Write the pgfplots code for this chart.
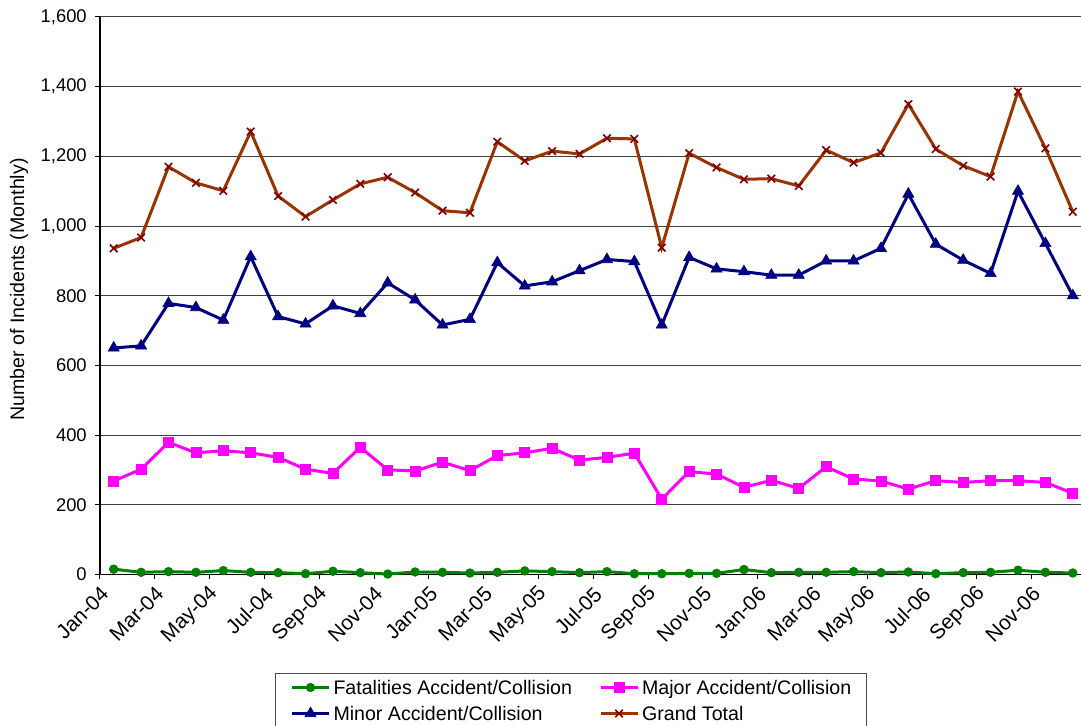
\documentclass[border=0pt]{standalone}
\usepackage{fontspec}
\setmainfont{Liberation Sans}
\usepackage{pgfplots}
\usepackage{pgfplotstable}
\pgfplotsset{compat=1.18}

\definecolor{fatal}{RGB}{0,128,0}
\definecolor{major}{RGB}{255,0,255}
\definecolor{minor}{RGB}{0,0,128}
\definecolor{totline}{RGB}{153,51,0}
\definecolor{totmark}{RGB}{128,0,0}

% month index (0 = Jan-04), fatalities, major, minor, grand total
\pgfplotstableread{
m  fat major minor total
0  15  268  650  936
1  6   302  656  967
2  8   379  778  1170
3  6   349  766  1124
4  11  355  730  1101
5  6   349  912  1271
6  5   336  740  1086
7  2   302  719  1027
8  9   290  771  1075
9  5   365  749  1121
10 1   300  837  1140
11 7   297  788  1096
12 6   322  716  1044
13 4   298  732  1038
14 6   341  895  1242
15 10  349  828  1187
16 8   362  840  1215
17 5   328  872  1207
18 8   336  904  1252
19 2   348  898  1250
20 2   216  716  938
21 3   295  910  1209
22 3   288  877  1168
23 14  250  869  1134
24 5   270  859  1136
25 6   247  859  1115
26 6   309  900  1218
27 8   274  900  1182
28 5   268  936  1210
29 7   245  1092 1350
30 2   269  948  1221
31 5   264  902  1173
32 6   269  864  1142
33 12  269  1100 1386
34 6   264  950  1223
35 4   233  800  1041
}\incidents

\begin{document}
\begin{tikzpicture}
\begin{axis}[
  scale only axis,
  width=735.75pt, height=418.05pt,
  xmin=-0.5, xmax=35.3,
  ymin=0, ymax=1600,
  clip=false,
  axis x line=bottom, axis y line=left,
  axis line style={-, black, line width=0.9pt},
  tick align=outside,
  tick style={black, line width=0.75pt},
  major tick length=3.75pt,
  ytick={0,200,...,1600},
  ymajorgrids,
  major grid style={black!75, line width=0.75pt},
  yticklabel style={font=\fontsize{13.8}{16}\selectfont, inner sep=1pt, xshift=-5pt},
  /pgf/number format/.cd, fixed, 1000 sep={,}, assume math mode=true,
  /pgfplots/.cd,
  xtick={-0.5,1.5,...,33.5},
  xticklabels={},
  extra x ticks={0,2,...,34},
  extra x tick labels={Jan-04,Mar-04,May-04,Jul-04,Sep-04,Nov-04,Jan-05,Mar-05,May-05,Jul-05,Sep-05,Nov-05,Jan-06,Mar-06,May-06,Jul-06,Sep-06,Nov-06},
  extra x tick style={major tick length=0pt,
    xticklabel style={font=\fontsize{15.6}{18}\selectfont, inner sep=0pt,
      xshift=-6.5pt, yshift=-12pt, rotate=45, anchor=east}},
  ylabel={Number of Incidents (Monthly)},
  every axis y label/.style={at={(axis description cs:-0.0826,0.511)}, rotate=90,
    anchor=center, font=\fontsize{14.7}{17}\selectfont},
  legend columns=2,
  legend image code/.code={\draw[mark repeat=2,mark phase=2,#1] plot coordinates {(0pt,0pt) (13.875pt,0pt) (27.75pt,0pt)};},
  legend style={
    at={(axis description cs:0.1784,-0.1769)}, anchor=north west,
    draw=black!70, line width=0.75pt, fill=white,
    inner xsep=11.25pt, inner ysep=0.75pt,
    font=\fontsize{14.7}{17}\selectfont,
    row sep=0pt,
    nodes={inner sep=0pt, text height=14.95pt, text depth=4.55pt},
    /tikz/every odd column/.append style={column sep=2.25pt},
    /tikz/every even column/.append style={column sep=20.25pt},
  },
  legend cell align=left,
]
\addplot[color=fatal, line width=2.25pt, mark=*, mark size=3.25pt,
  mark options={fill=fatal, draw=fatal, line width=0.5pt}]
  table[x=m, y=fat] {\incidents};
\addlegendentry{Fatalities Accident/Collision}
\addplot[color=major, line width=2.25pt, mark=square*, mark size=3.75pt,
  mark options={fill=major, draw=major, line width=0.5pt}]
  table[x=m, y=major] {\incidents};
\addlegendentry{Major Accident/Collision}
\addplot[color=minor, line width=2.25pt, mark=triangle*, mark size=4.8pt,
  mark options={fill=minor, draw=minor, line width=0.5pt}]
  table[x=m, y=minor] {\incidents};
\addlegendentry{Minor Accident/Collision}
\addplot[color=totline, line width=2.25pt, mark=x, mark size=4pt,
  mark options={draw=totmark, line width=1.2pt}]
  table[x=m, y=total] {\incidents};
\addlegendentry{Grand Total}
\end{axis}
\pgfresetboundingbox
\path[use as bounding box] (-75pt,-112.95pt) rectangle (735.75pt,430.8pt);
\end{tikzpicture}
\end{document}
